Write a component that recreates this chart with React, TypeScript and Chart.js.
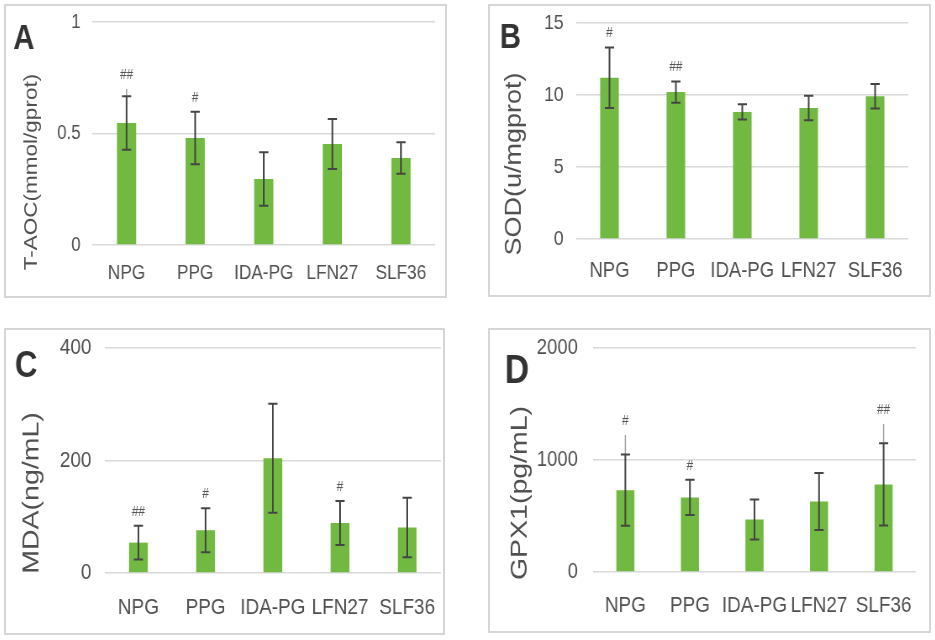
import React, { useEffect, useRef } from "react";
import { Chart, registerables } from "chart.js";

Chart.register(...registerables);

// ---------- data ----------
const categories = ["NPG", "PPG", "IDA-PG", "LFN27", "SLF36"];

const taocValues = [0.547, 0.48, 0.296, 0.453, 0.39];
const taocErrors = [0.12, 0.118, 0.12, 0.112, 0.071];
const taocOuter: (number | null)[] = [0.7, null, null, null, null];
const taocMarks = ["##", "#", "", "", ""];
const taocTicks = [0, 0.5, 1];

const sodValues = [11.2, 10.2, 8.82, 9.1, 9.91];
const sodErrors = [2.1, 0.74, 0.53, 0.85, 0.85];
const sodOuter: (number | null)[] = [null, null, null, null, null];
const sodMarks = ["#", "##", "", "", ""];
const sodTicks = [0, 5, 10, 15];

const mdaValues = [54, 76, 204, 89, 81];
const mdaErrors = [30, 39, 97, 39, 53];
const mdaOuter: (number | null)[] = [null, null, null, null, null];
const mdaMarks = ["##", "#", "", "#", ""];
const mdaTicks = [0, 200, 400];

const gpxValues = [731, 666, 469, 630, 782];
const gpxErrors = [318, 158, 179, 255, 367];
const gpxOuter: (number | null)[] = [1224, null, null, null, 1322];
const gpxMarks = ["#", "#", "", "", "##"];
const gpxTicks = [0, 1000, 2000];

// ---------- styles ----------
const SQ = 0.84;
const FONT = "'Liberation Sans', Arial, Helvetica, sans-serif";
const TEXT = "#505050";
const BAR = "#72B941";

type Spec = {
  letter: string;
  title: string;
  values: number[];
  errors: number[];
  outer: (number | null)[];
  marks: string[];
  ticks: number[];
  left: number;
  top: number;
  width: number;
  height: number;
  axisW: number;
  padR: number;
  padT: number;
  plotBottom: number;
  tickPad: number;
  labelPad: number;
  tickSize: number;
  labelSize: number;
  titleSize: number;
  titleX: number;
  titleY: number;
  letterSize: number;
  letterX: number;
  letterY: number;
};

const panels: Spec[] = [
  {
    letter: "A", title: "T-AOC(mmol/gprot)",
    values: taocValues, errors: taocErrors, outer: taocOuter, marks: taocMarks, ticks: taocTicks,
    left: 4, top: 4, width: 443, height: 294,
    axisW: 105, padR: 14, padT: 18, plotBottom: 241, tickPad: 14, labelPad: 16,
    tickSize: 20, labelSize: 20.5, titleSize: 22.5, titleX: 33, titleY: 168,
    letterSize: 35, letterX: 11, letterY: 45,
  },
  {
    letter: "B", title: "SOD(u/mgprot)",
    values: sodValues, errors: sodErrors, outer: sodOuter, marks: sodMarks, ticks: sodTicks,
    left: 488, top: 4, width: 443, height: 293,
    axisW: 105, padR: 27, padT: 19, plotBottom: 235, tickPad: 15, labelPad: 19,
    tickSize: 21, labelSize: 22, titleSize: 27, titleX: 32, titleY: 160,
    letterSize: 35, letterX: 14, letterY: 44,
  },
  {
    letter: "C", title: "MDA(ng/mL)",
    values: mdaValues, errors: mdaErrors, outer: mdaOuter, marks: mdaMarks, ticks: mdaTicks,
    left: 4, top: 328, width: 441, height: 307,
    axisW: 120, padR: 5, padT: 20, plotBottom: 245, tickPad: 16, labelPad: 21,
    tickSize: 22.5, labelSize: 22.5, titleSize: 28.5, titleX: 33, titleY: 165,
    letterSize: 37, letterX: 13, letterY: 49,
  },
  {
    letter: "D", title: "GPX1(pg/mL)",
    values: gpxValues, errors: gpxErrors, outer: gpxOuter, marks: gpxMarks, ticks: gpxTicks,
    left: 488, top: 328, width: 443, height: 305,
    axisW: 125, padR: 18, padT: 20, plotBottom: 244, tickPad: 18, labelPad: 20,
    tickSize: 22, labelSize: 22.5, titleSize: 28.5, titleX: 38, titleY: 165,
    letterSize: 40, letterX: 20, letterY: 55,
  },
];

function makeOverlay(spec: Spec) {
  return {
    id: "overlay" + spec.letter,
    afterDatasetsDraw(chart: any) {
      const ctx: CanvasRenderingContext2D = chart.ctx;
      const ys = chart.scales.y;
      const meta = chart.getDatasetMeta(0);
      ctx.save();
      meta.data.forEach((bar: any, i: number) => {
        const x = bar.x;
        const v = spec.values[i];
        const e = spec.errors[i];
        const yTop = ys.getPixelForValue(v + e);
        const yBot = ys.getPixelForValue(v - e);
        const o = spec.outer[i];
        if (o != null) {
          ctx.strokeStyle = "#9a9a9a";
          ctx.lineWidth = 1.4;
          ctx.beginPath();
          ctx.moveTo(x, ys.getPixelForValue(o));
          ctx.lineTo(x, yTop);
          ctx.stroke();
        }
        ctx.strokeStyle = "#454545";
        ctx.lineWidth = 2;
        ctx.beginPath();
        ctx.moveTo(x, yTop);
        ctx.lineTo(x, yBot);
        ctx.moveTo(x - 5.5, yTop);
        ctx.lineTo(x + 5.5, yTop);
        ctx.moveTo(x - 5.5, yBot);
        ctx.lineTo(x + 5.5, yBot);
        ctx.stroke();
        const m = spec.marks[i];
        if (m) {
          const topPx = o != null ? ys.getPixelForValue(o) : yTop;
          ctx.fillStyle = "#555555";
          ctx.font = `14px ${FONT}`;
          ctx.textAlign = "center";
          ctx.textBaseline = "middle";
          ctx.fillText(m, x, topPx - 14);
        }
      });
      ctx.restore();
    },
    afterDraw(chart: any) {
      const ctx: CanvasRenderingContext2D = chart.ctx;
      ctx.save();
      ctx.translate(spec.titleX, spec.titleY);
      ctx.rotate(-Math.PI / 2);
      ctx.fillStyle = TEXT;
      ctx.font = `${spec.titleSize}px ${FONT}`;
      ctx.textAlign = "center";
      ctx.textBaseline = "middle";
      ctx.fillText(spec.title, 0, 0);
      ctx.restore();
      ctx.save();
      ctx.fillStyle = "#333333";
      ctx.font = `bold ${spec.letterSize}px ${FONT}`;
      ctx.textAlign = "left";
      ctx.textBaseline = "alphabetic";
      ctx.fillText(spec.letter, spec.letterX, spec.letterY);
      ctx.restore();
    },
  };
}

function Panel({ spec }: { spec: Spec }) {
  const ref = useRef<HTMLCanvasElement>(null);
  const W = Math.round(spec.width / SQ);
  useEffect(() => {
    const canvas = ref.current;
    if (!canvas) return;
    const ticks = spec.ticks;
    const chart = new Chart(canvas, {
      type: "bar",
      data: {
        labels: categories,
        datasets: [
          {
            data: spec.values,
            backgroundColor: BAR,
            borderWidth: 0,
            barPercentage: 0.28,
            categoryPercentage: 1,
          },
        ],
      },
      options: {
        responsive: false,
        animation: false,
        layout: { padding: { left: 0, right: spec.padR, top: spec.padT, bottom: 0 } },
        plugins: {
          legend: { display: false },
          tooltip: { enabled: false },
          title: { display: false },
        },
        scales: {
          x: {
            grid: { display: false, drawTicks: false },
            border: { display: false },
            ticks: {
              color: TEXT,
              font: { family: FONT, size: spec.labelSize },
              padding: spec.labelPad,
              maxRotation: 0,
              autoSkip: false,
            },
            afterFit: (s: any) => {
              s.height = spec.height - spec.plotBottom;
              s.paddingLeft = 0;
              s.paddingRight = 0;
            },
          },
          y: {
            min: ticks[0],
            max: ticks[ticks.length - 1],
            grid: { color: "#d9d9d9", lineWidth: 1.6, drawTicks: false },
            border: { display: false },
            ticks: {
              color: TEXT,
              font: { family: FONT, size: spec.tickSize },
              padding: spec.tickPad,
              callback: (v: any) => String(v),
            },
            afterBuildTicks: (s: any) => {
              s.ticks = ticks.map((v) => ({ value: v }));
            },
            afterFit: (s: any) => {
              s.width = spec.axisW;
              s.paddingTop = 0;
              s.paddingBottom = 0;
            },
          },
        },
      },
      plugins: [makeOverlay(spec)],
    } as any);
    return () => chart.destroy();
  }, []);
  return (
    <div
      style={{
        position: "absolute",
        left: spec.left,
        top: spec.top,
        width: spec.width,
        height: spec.height,
        overflow: "hidden",
        background: "#ffffff",
      }}
    >
      <div
        style={{
          position: "absolute",
          left: 0,
          top: 0,
          width: W,
          height: spec.height,
          transform: `scaleX(${spec.width / W})`,
          transformOrigin: "0 0",
        }}
      >
        <canvas
          ref={ref}
          width={W}
          height={spec.height}
          style={{ width: W, height: spec.height, display: "block" }}
        />
      </div>
      <div
        style={{
          position: "absolute",
          left: 0,
          top: 0,
          right: 0,
          bottom: 0,
          border: "2px solid #d6d6d6",
          boxSizing: "border-box",
          pointerEvents: "none",
        }}
      />
    </div>
  );
}

export default function App() {
  return (
    <div
      style={{
        position: "absolute",
        left: 0,
        top: 0,
        width: 935,
        height: 640,
        background: "#ffffff",
        overflow: "hidden",
      }}
    >
      {panels.map((p) => (
        <Panel key={p.letter} spec={p} />
      ))}
    </div>
  );
}
